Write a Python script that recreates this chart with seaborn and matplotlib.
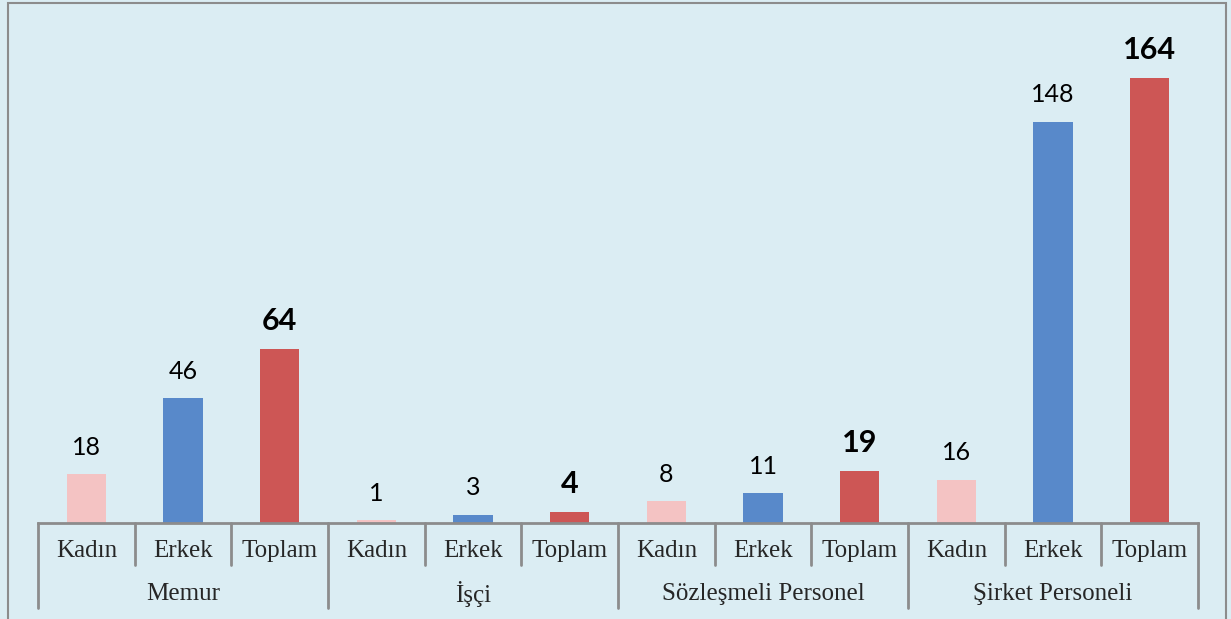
import matplotlib
matplotlib.use("Agg")
import matplotlib.pyplot as plt
import seaborn as sns
import pandas as pd
from matplotlib.patches import Rectangle
from matplotlib.lines import Line2D

groups = ["Memur", "İşçi", "Sözleşmeli Personel", "Şirket Personeli"]
subcats = ["Kadın", "Erkek", "Toplam"]
kadin = [18, 1, 8, 16]
erkek = [46, 3, 11, 148]
toplam = [64, 4, 19, 164]

colors = {"Kadın": "#F4C3C3", "Erkek": "#5889CA", "Toplam": "#CD5655"}
bg = "#DBEDF3"

rows = []
for gi, g in enumerate(groups):
    for s, vals in zip(subcats, [kadin, erkek, toplam]):
        rows.append({"slot": f"{g}|{s}", "group": g, "sub": s, "value": vals[gi]})
df = pd.DataFrame(rows)

sns.set_theme(style="white")
W, H = 1231, 619
fig = plt.figure(figsize=(W / 100, H / 100), dpi=100)
fig.patch.set_facecolor(bg)

# outer border (bottom edge falls outside the image)
fig.patches.append(Rectangle((8 / W, -0.05), (1226 - 8) / W, (H - 3) / H + 0.05,
                             transform=fig.transFigure, fill=False,
                             edgecolor="#8C8C8C", linewidth=1.5, zorder=0))

ax = fig.add_axes([38 / W, 1 - 523 / H, (1198 - 38) / W, (523 - 35) / H])
ax.set_facecolor(bg)

sns.barplot(data=df, x="slot", y="value", hue="sub", palette=colors,
            dodge=False, width=0.41, legend=False, ax=ax, saturation=1,
            linewidth=0, edgecolor="none")

n = len(df)
ax.set_xlim(-0.5, n - 0.5)
ax.set_ylim(0, 180)
ax.set_xticks([])
ax.set_yticks([])
ax.set_xlabel("")
ax.set_ylabel("")
for sp in ["top", "right", "left"]:
    ax.spines[sp].set_visible(False)
ax.spines["bottom"].set_color("#8C8C8C")
ax.spines["bottom"].set_linewidth(2)

# value labels
for i, r in df.iterrows():
    bold = r["sub"] == "Toplam"
    ax.annotate(str(r["value"]), (i, r["value"]), xytext=(0, 14),
                textcoords="offset points", ha="center", va="baseline",
                fontsize=22 if bold else 18,
                fontweight="bold" if bold else "normal",
                family=["Lato", "DejaVu Sans"], color="black")

# separators and category labels
trans = ax.get_xaxis_transform()
y_small = -(565 - 523) / (523 - 35)
y_big = -(608 - 523) / (523 - 35)
for b in range(n + 1):
    x = b - 0.5
    y1 = y_big if b % 3 == 0 else y_small
    ax.add_line(Line2D([x, x], [0, y1], transform=trans, color="#8C8C8C",
                       linewidth=2, clip_on=False))
y_sub = -(551 - 523) / (523 - 35)
y_grp = -(594 - 523) / (523 - 35)
for i, r in df.iterrows():
    ax.text(i, y_sub, r["sub"], transform=trans, ha="center", va="center",
            fontsize=18, family=["Liberation Serif", "DejaVu Serif"])
for gi, g in enumerate(groups):
    ax.text(gi * 3 + 1, y_grp, g, transform=trans, ha="center", va="center",
            fontsize=18, family=["Liberation Serif", "DejaVu Serif"])

fig.savefig("out.png", dpi=100, facecolor=bg)
